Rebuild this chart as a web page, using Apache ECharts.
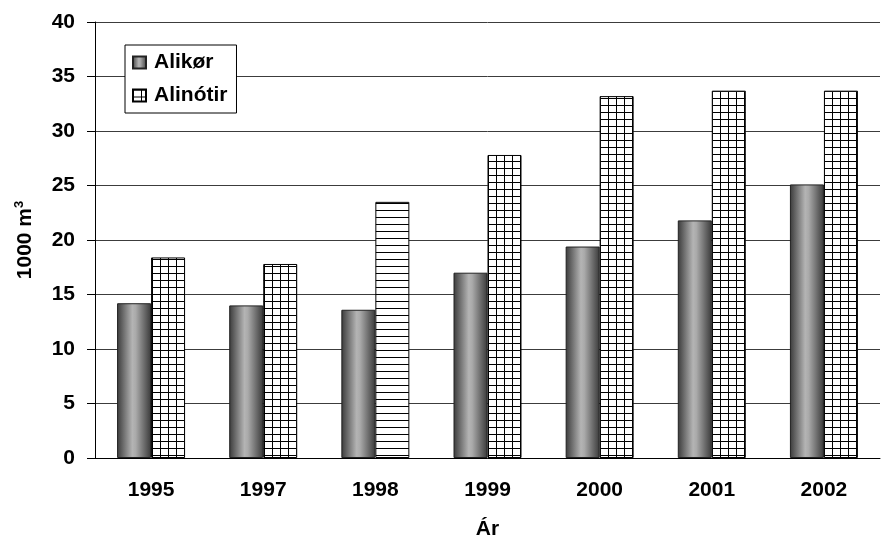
<!DOCTYPE html>
<html>
<head>
<meta charset="utf-8">
<script src="https://cdn.jsdelivr.net/npm/echarts@6/dist/echarts.min.js"></script>
<style>
    html, body { margin: 0; padding: 0; background: #fff; }
    #chart { width: 890px; height: 542px; }
</style>
</head>
<body>
<div id="chart"></div>
<script>
    // Ár
    var years = ['1995', '1997', '1998', '1999', '2000', '2001', '2002'];
    // 1000 m3
    var alikor = [14.2, 14.0, 13.6, 17.0, 19.4, 21.8, 25.1];
    var alinotir = [18.4, 17.8, 23.5, 27.8, 33.2, 33.7, 33.7];
    // 1998 bar is drawn with horizontal stripes only
    var stripedYear = '1998';

    function makePattern(w, h, vertical) {
        var c = document.createElement('canvas');
        c.width = w;
        c.height = h;
        var ctx = c.getContext('2d');
        ctx.fillStyle = '#fff';
        ctx.fillRect(0, 0, w, h);
        ctx.fillStyle = '#000';
        ctx.fillRect(0, 0, w, 1);
        if (vertical) ctx.fillRect(0, 0, 1, h);
        return { image: c, repeat: 'repeat' };
    }

    var gridFill = makePattern(8, 7, true);
    var stripeFill = makePattern(8, 7, false);

    var grayFill = new echarts.graphic.LinearGradient(0, 0, 1, 0, [
        { offset: 0, color: '#3a3a3a' },
        { offset: 0.45, color: '#b4b4b4' },
        { offset: 0.55, color: '#aaaaaa' },
        { offset: 1, color: '#3a3a3a' }
    ]);

    var alinotirData = alinotir.map(function (v, i) {
        if (years[i] === stripedYear) {
            return { value: v, itemStyle: { color: stripeFill } };
        }
        return v;
    });

    var font = 'Liberation Sans, Arial, sans-serif';
    var fs = 21;

    var options = {
        animation: false,
        backgroundColor: '#fff',
        grid: { left: 95, right: 10, top: 22, bottom: 84, outerBoundsMode: 'none' },
        legend: {
            orient: 'vertical',
            left: 125,
            top: 45,
            padding: [7, 9, 7, 7],
            itemGap: 12,
            itemWidth: 13,
            itemHeight: 12,
            backgroundColor: '#fff',
            borderColor: '#000',
            borderWidth: 1,
            icon: 'rect',
            textStyle: { fontFamily: font, fontSize: 21, fontWeight: 'bold', color: '#000', padding: [0, 0, 0, 3] },
            data: ['Alikør', 'Alinótir']
        },
        xAxis: {
            type: 'category',
            data: years,
            name: 'Ár',
            nameLocation: 'middle',
            nameGap: 61,
            nameTextStyle: { fontFamily: font, fontSize: fs, fontWeight: 'bold', color: '#000' },
            axisLine: { lineStyle: { color: '#000', width: 1 } },
            axisTick: { length: 8, lineStyle: { color: '#000' } },
            axisLabel: { margin: 22, fontFamily: font, fontSize: fs, fontWeight: 'bold', color: '#000' }
        },
        yAxis: {
            type: 'value',
            min: 0,
            max: 40,
            interval: 5,
            name: '{a|1000 m}{b|3}',
            nameLocation: 'middle',
            nameGap: 58,
            nameTextStyle: {
                fontFamily: font, fontWeight: 'bold', color: '#000',
                rich: {
                    a: { fontFamily: font, fontSize: fs, fontWeight: 'bold', color: '#000', lineHeight: 24 },
                    b: { fontFamily: font, fontSize: 13, fontWeight: 'bold', color: '#000', lineHeight: 13, verticalAlign: 'top' }
                }
            },
            axisLine: { show: true, lineStyle: { color: '#000', width: 1 } },
            axisTick: { show: true, length: 8, lineStyle: { color: '#000' } },
            axisLabel: { margin: 20, fontFamily: font, fontSize: fs, fontWeight: 'bold', color: '#000' },
            splitLine: { lineStyle: { color: '#3c3c3c', width: 1 } }
        },
        series: [
            {
                name: 'Alikør',
                type: 'bar',
                data: alikor,
                barWidth: 34,
                barGap: '0%',
                itemStyle: { color: grayFill, borderColor: '#222', borderWidth: 1 }
            },
            {
                name: 'Alinótir',
                type: 'bar',
                data: alinotirData,
                barWidth: 34,
                barGap: '0%',
                itemStyle: { color: gridFill, borderColor: '#000', borderWidth: 1 }
            }
        ]
    };

    var myChart = echarts.init(document.getElementById('chart'));
    myChart.setOption(options);
</script>
</body>
</html>
